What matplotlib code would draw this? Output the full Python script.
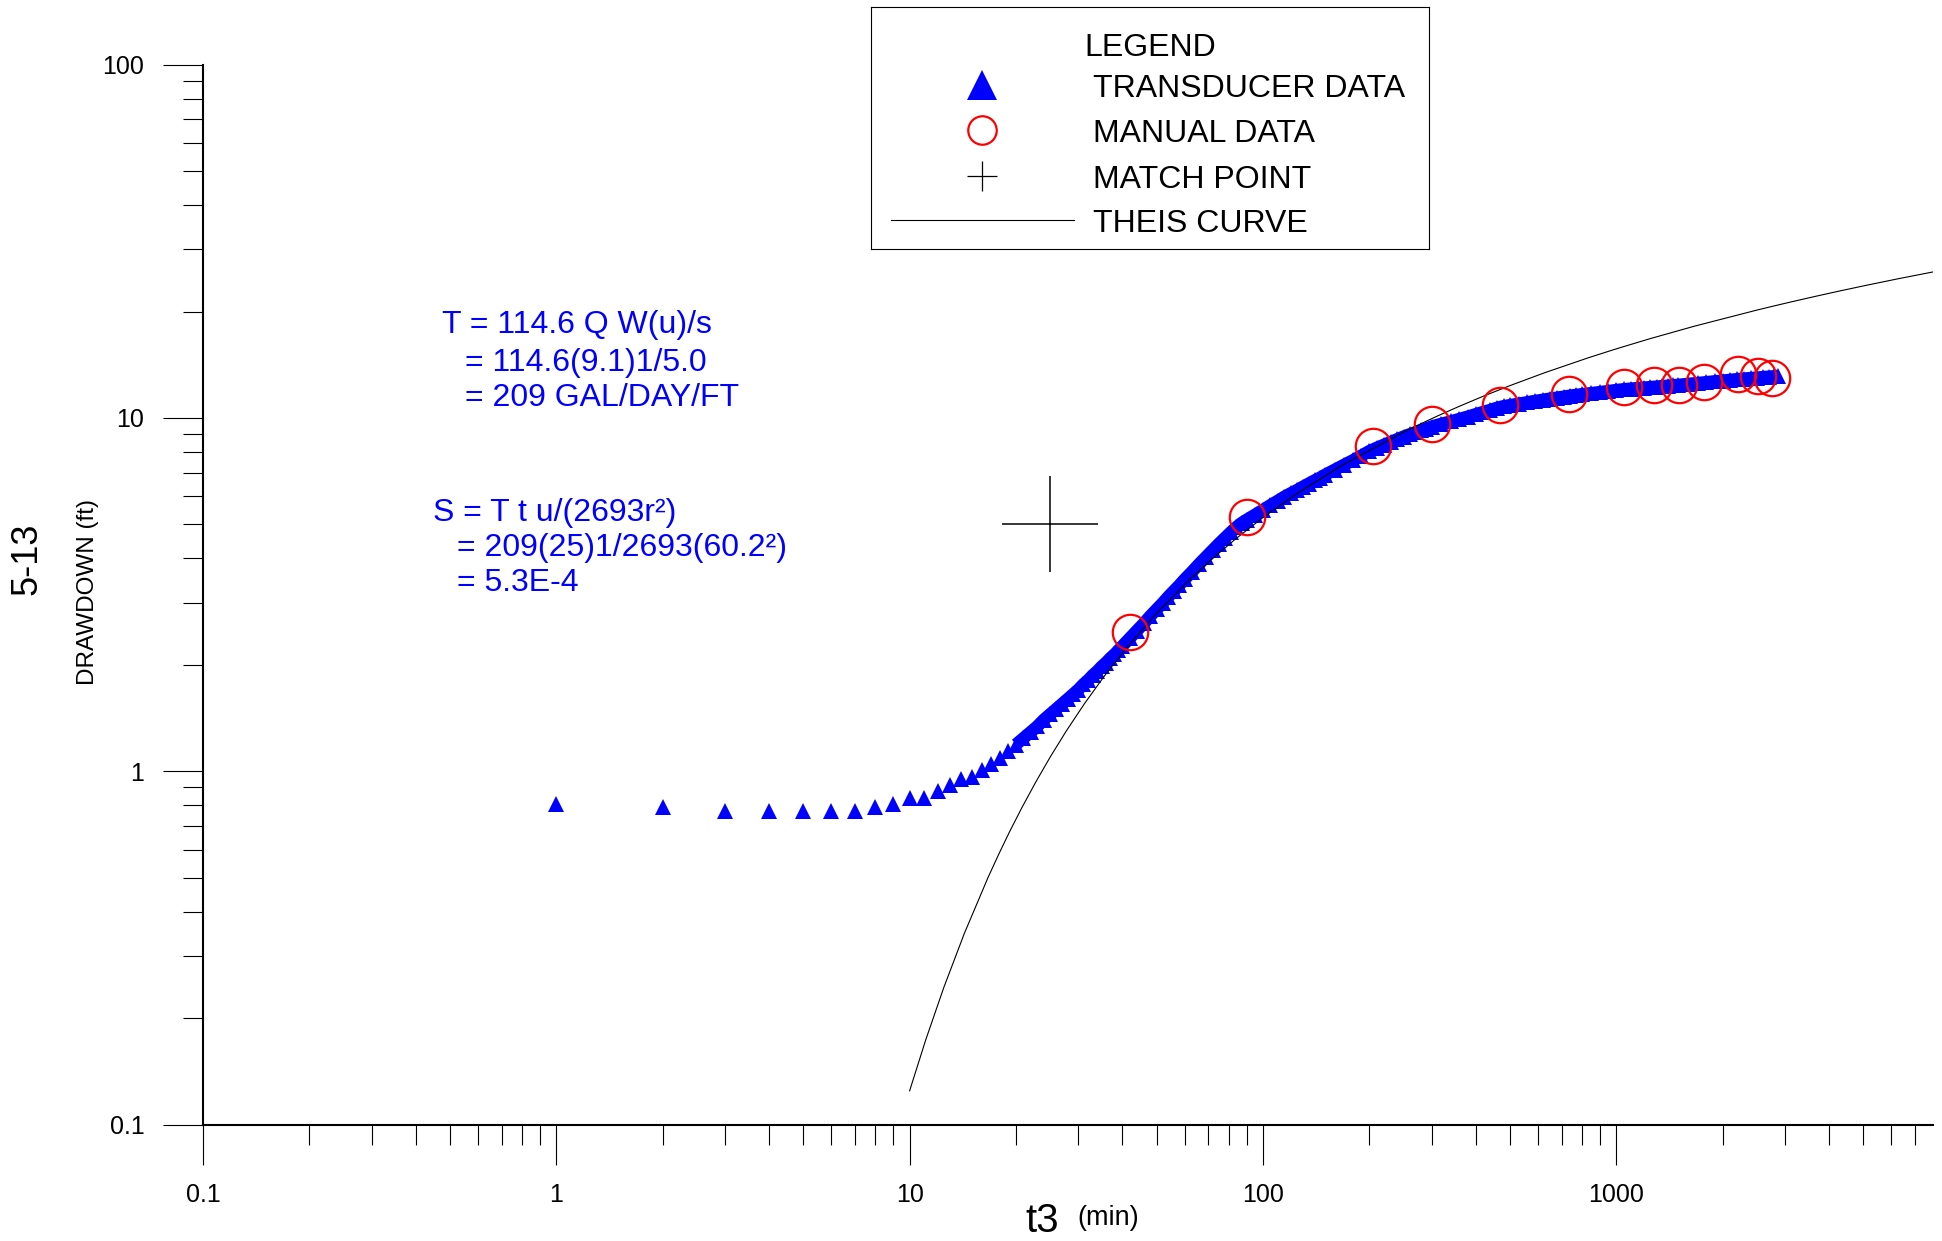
import matplotlib
matplotlib.use("Agg")
import matplotlib.pyplot as plt
from matplotlib.ticker import LogLocator, FixedFormatter, FixedLocator, NullFormatter
import numpy as np

plt.rcParams['font.family'] = ['Liberation Sans', 'DejaVu Sans']

# ---- Transducer record (elapsed minutes, drawdown ft) ----
transducer_t = [1, 2, 3, 4, 5, 6, 7, 8, 9, 10, 11, 12, 13, 14, 15, 16, 17, 18, 19, 20,
                21, 22, 23, 24, 25, 26, 27, 28, 29, 30, 31, 32, 33, 34, 35, 36, 37, 38, 39, 40,
                42, 44, 46, 48, 50, 52, 54, 56, 58, 60, 63, 66, 69, 72, 75, 78, 81, 84, 87, 90,
                95, 100, 105, 110, 115, 120, 125, 130, 135, 140, 145, 150, 160, 170, 180, 190, 200,
                210, 220, 230, 240, 250, 260, 270, 280, 290, 300, 320, 340, 360, 380, 400, 420,
                440, 460, 480, 500, 530, 560, 590, 620, 650, 680, 710, 740, 770, 800, 850, 900,
                950, 1000, 1050, 1100, 1150, 1200, 1250, 1300, 1350, 1400, 1450, 1500, 1600, 1700,
                1800, 1900, 2000, 2100, 2200, 2300, 2400, 2500, 2600, 2700, 2800, 2870]
transducer_s = [0.808, 0.791, 0.771, 0.771, 0.771, 0.771, 0.771, 0.791, 0.808, 0.842, 0.842, 0.879,
                0.914, 0.949, 0.965, 1.01, 1.05, 1.09, 1.14, 1.19,
                1.24, 1.29, 1.34, 1.40, 1.45, 1.50, 1.55, 1.60, 1.65, 1.70, 1.76, 1.81, 1.87, 1.92,
                1.98, 2.03, 2.09, 2.14, 2.20, 2.26,
                2.38, 2.50, 2.62, 2.75, 2.87, 2.99, 3.12, 3.24, 3.36, 3.49, 3.67, 3.86, 4.04, 4.22,
                4.40, 4.57, 4.74, 4.90, 5.04, 5.15,
                5.32, 5.49, 5.66, 5.82, 5.98, 6.12, 6.25, 6.39, 6.52, 6.65, 6.77, 6.90, 7.14, 7.37,
                7.59, 7.82, 8.05,
                8.23, 8.39, 8.55, 8.70, 8.85, 8.98, 9.10, 9.22, 9.33, 9.45, 9.62, 9.77, 9.93, 10.08,
                10.24, 10.39,
                10.53, 10.68, 10.79, 10.86, 10.97, 11.07, 11.17, 11.25, 11.34, 11.41, 11.48, 11.56,
                11.61, 11.67, 11.75, 11.83,
                11.91, 11.99, 12.05, 12.10, 12.14, 12.18, 12.22, 12.26, 12.30, 12.33, 12.37, 12.40,
                12.48, 12.55,
                12.62, 12.69, 12.75, 12.81, 12.87, 12.92, 12.96, 13.00, 13.04, 13.08, 13.12, 13.15]

# ---- Manual tape readings ----
manual_t = [42, 90, 205, 300, 470, 735, 1050, 1280, 1505, 1770, 2210, 2515, 2755]
manual_s = [2.48, 5.24, 8.35, 9.58, 10.9, 11.7, 12.2, 12.4, 12.4, 12.6, 13.3, 13.1, 13.0]

# ---- Match point (t, s) and Theis well function table W(u) ----
match_t = 25.0
match_s = 5.0
theis_u = [2.5, 2.25, 2.0, 1.75, 1.5, 1.4, 1.3, 1.2, 1.1, 1.0, 0.9, 0.8, 0.7, 0.6, 0.5, 0.4,
           0.35, 0.3, 0.25, 0.2, 0.15, 0.1, 0.09, 0.08, 0.07, 0.06, 0.05, 0.04, 0.03, 0.025,
           0.02, 0.015, 0.01, 0.009, 0.008, 0.007, 0.006, 0.005, 0.004, 0.003]
theis_w = [0.02491, 0.03476, 0.04890, 0.06949, 0.1000, 0.1162, 0.1355, 0.1584, 0.1860, 0.2194,
           0.2602, 0.3106, 0.3738, 0.4544, 0.5598, 0.7024, 0.7942, 0.9057, 1.0443, 1.2227,
           1.4645, 1.8229, 1.9187, 2.0269, 2.1508, 2.2953, 2.4679, 2.6813, 2.9591, 3.1365,
           3.3547, 3.6374, 4.0379, 4.1423, 4.2591, 4.3916, 4.5448, 4.7261, 4.9482, 5.2349]

x_ticks = [0.1, 1, 10, 100, 1000]
x_tick_labels = ["0.1", "1", "10", "100", "1000"]
y_ticks = [0.1, 1, 10, 100]
y_tick_labels = ["0.1", "1", "10", "100"]

legend_entries = ["TRANSDUCER DATA", "MANUAL DATA", "MATCH POINT", "THEIS CURVE"]

calc_lines = ["T = 114.6 Q W(u)/s",
              "= 114.6(9.1)1/5.0",
              "= 209 GAL/DAY/FT",
              "S = T t u/(2693r\u00b2)",
              "= 209(25)1/2693(60.2\u00b2)",
              "= 5.3E-4"]

BLUE = "#0000ff"
RED = "#ff0000"

W, H = 1942, 1241
fig = plt.figure(figsize=(W / 100, H / 100), dpi=100, facecolor="white")


def fx(px):
    return px / W


def fy(py):
    return 1 - py / H


ax = fig.add_axes([fx(203), fy(1124.5), (1933 - 203) / W, (1124.5 - 64.6) / H])
ax.set_xscale("log")
ax.set_yscale("log")
ax.set_xlim(0.1, 7880)
ax.set_ylim(0.1, 100)

for side in ("top", "right"):
    ax.spines[side].set_visible(False)
for side in ("left", "bottom"):
    ax.spines[side].set_linewidth(1.5)

ax.xaxis.set_major_locator(FixedLocator(x_ticks))
ax.xaxis.set_major_formatter(FixedFormatter(x_tick_labels))
ax.xaxis.set_minor_locator(LogLocator(base=10, subs=np.arange(2, 10), numticks=20))
ax.xaxis.set_minor_formatter(NullFormatter())
ax.yaxis.set_major_locator(FixedLocator(y_ticks))
ax.yaxis.set_major_formatter(FixedFormatter(y_tick_labels))
ax.yaxis.set_minor_locator(LogLocator(base=10, subs=np.arange(2, 10), numticks=20))
ax.yaxis.set_minor_formatter(NullFormatter())

ax.tick_params(axis="both", which="major", direction="out", length=28.8, width=0.8,
               labelsize=18, color="black")
ax.tick_params(axis="both", which="minor", direction="out", length=14.4, width=0.8,
               color="black")
ax.tick_params(axis="x", which="major", pad=13)
ax.tick_params(axis="y", which="major", pad=13.5)

# Transducer readings: the dense part of the record merges into a solid band
dense_from = transducer_t.index(20)
ax.plot(transducer_t[dense_from:], transducer_s[dense_from:], linestyle="-", linewidth=9,
        solid_capstyle="butt", solid_joinstyle="round", color=BLUE, zorder=3)
ax.plot(transducer_t, transducer_s, linestyle="none", marker="^", markersize=11.5,
        markeredgewidth=0, color=BLUE, zorder=3)

# Theis type curve placed through the match point
theis_t = [match_t / u for u in theis_u]
theis_s = [match_s * w for w in theis_w]
ax.plot(theis_t, theis_s, color="black", linewidth=0.8, zorder=4)

ax.plot(manual_t, manual_s, linestyle="none", marker="o", markersize=25.5,
        markerfacecolor="none", markeredgecolor=RED, markeredgewidth=1.6, zorder=5)
ax.plot([match_t], [match_s], linestyle="none", marker="+", markersize=69,
        markeredgewidth=1.1, color="black", zorder=5)

# Axis titles
fig.text(fx(27), fy(559), "5-13", rotation=90, ha="center", va="center", fontsize=26)
fig.text(fx(88), fy(592), "DRAWDOWN (ft)", rotation=90, ha="center", va="center", fontsize=17.5)
fig.text(fx(1025), fy(1232), "t3", ha="left", va="baseline", fontsize=29)
fig.text(fx(1077), fy(1225), "(min)", ha="left", va="baseline", fontsize=19.5)

# Calculation notes
calc_pos = [(442, 333), (465, 371), (465, 406), (433, 521), (457, 556), (457, 591)]
for (px, py), line in zip(calc_pos, calc_lines):
    fig.text(fx(px), fy(py), line, ha="left", va="baseline", fontsize=23, color=BLUE)

# Legend panel
lx0, lx1, ly0, ly1 = 871, 1429, 7.3, 249
lax = fig.add_axes([fx(lx0), fy(ly1), (lx1 - lx0) / W, (ly1 - ly0) / H])
lax.set_xlim(lx0, lx1)
lax.set_ylim(ly1, ly0)
lax.set_xticks([])
lax.set_yticks([])
for sp in lax.spines.values():
    sp.set_linewidth(0.8)
    sp.set_color("black")
lax.text(1084, 56.5, "LEGEND", ha="left", va="baseline", fontsize=23)
row_y = [85, 130, 176, 220]
text_base = [96.7, 141.7, 188, 231.7]
lax.plot([982], [row_y[0]], marker="^", markersize=21, markeredgewidth=0, color=BLUE,
         linestyle="none")
lax.plot([982], [row_y[1]], marker="o", markersize=20.5, markerfacecolor="none",
         markeredgecolor=RED, markeredgewidth=1.6, linestyle="none")
lax.plot([982], [row_y[2]], marker="+", markersize=21.5, markeredgewidth=0.9, color="black",
         linestyle="none")
lax.plot([891, 1074], [row_y[3], row_y[3]], color="black", linewidth=0.8)
for yb, label in zip(text_base, legend_entries):
    lax.text(1093, yb, label, ha="left", va="baseline", fontsize=23)

fig.savefig("out.png", dpi=100, facecolor="white")
